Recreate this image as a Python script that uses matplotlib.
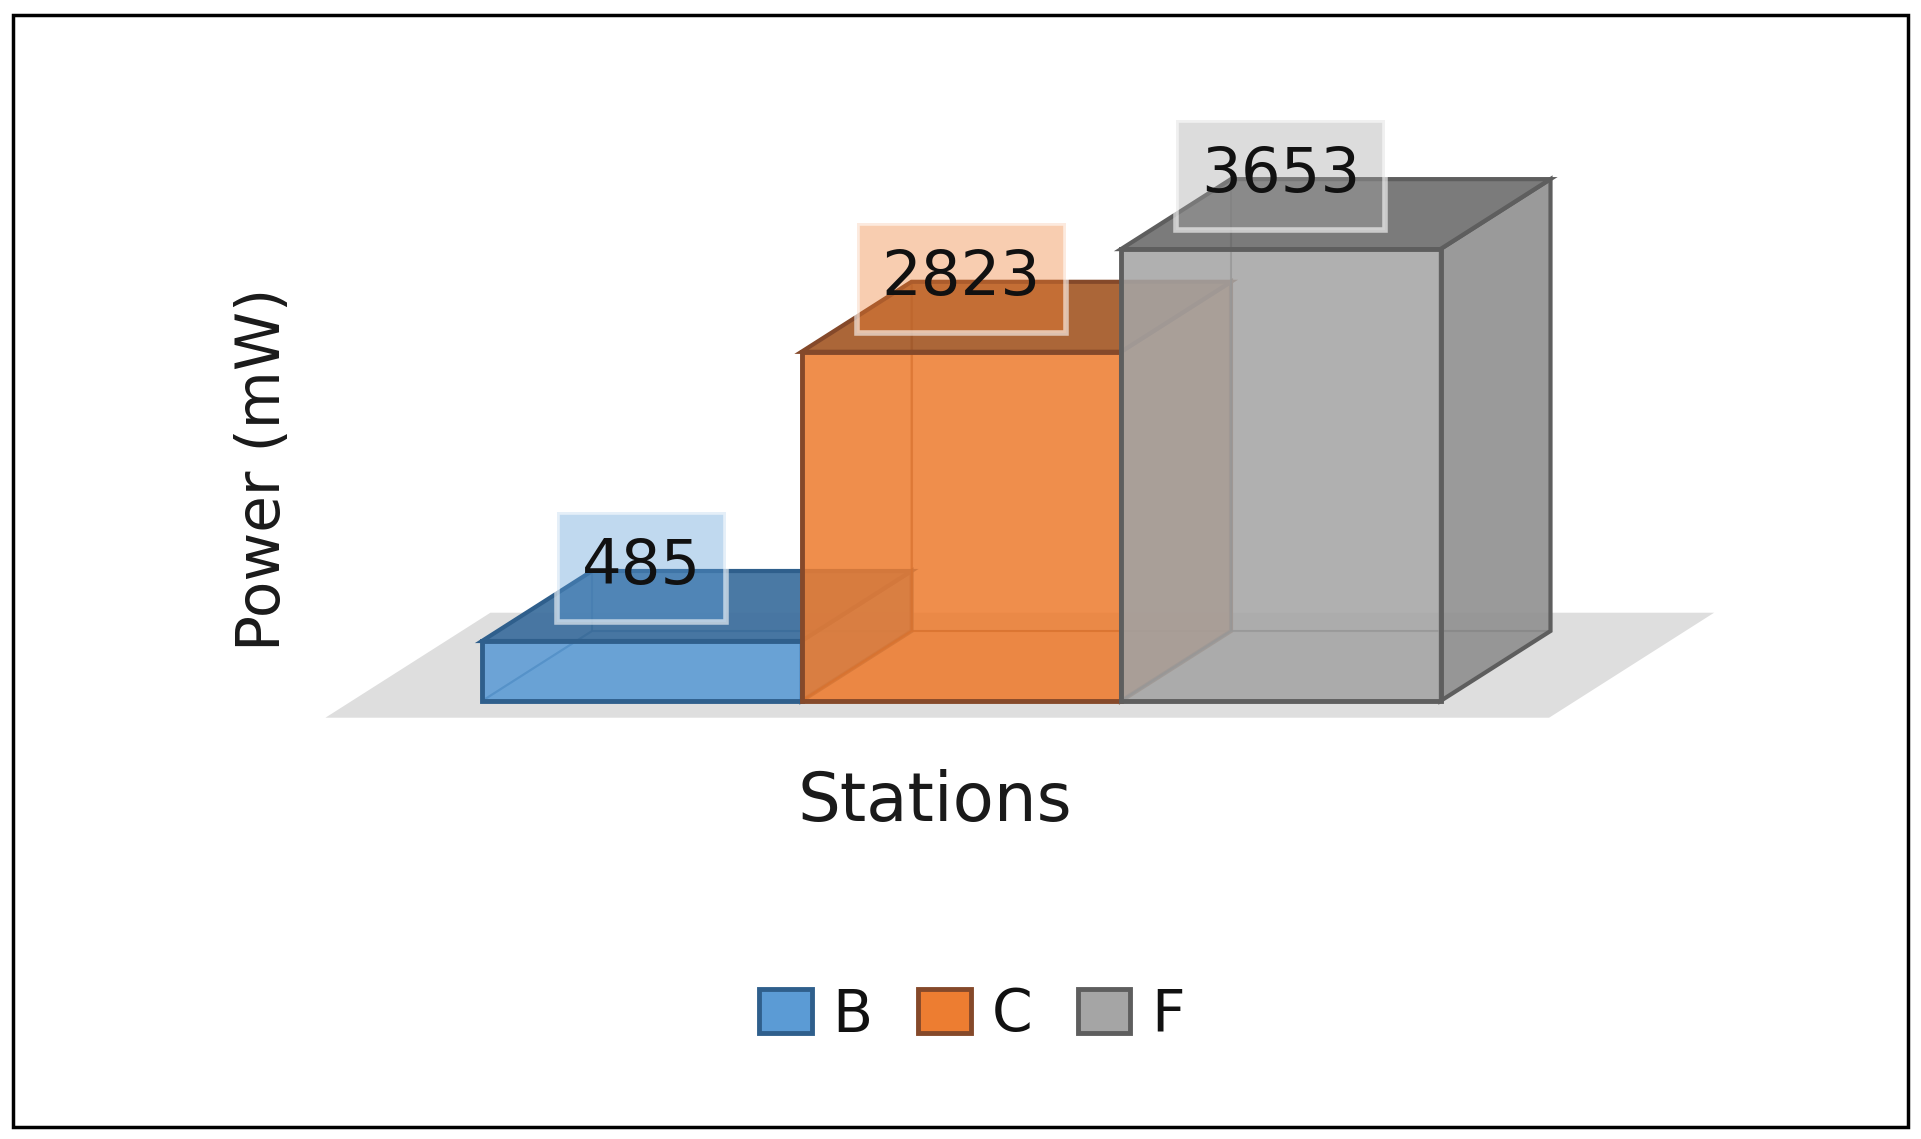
import matplotlib
matplotlib.use("Agg")
import matplotlib.pyplot as plt
from matplotlib.colors import to_rgb
from matplotlib.patches import Patch, Polygon, Rectangle

# valores
estacoes = ["B", "C", "F"]
potencia = [485, 2823, 3653]

cor_frente = ["#5B9BD5", "#ED7D31", "#A5A5A5"]
cor_topo = ["#3D6E9C", "#A35A2A", "#707070"]
cor_lado = ["#4A80B0", "#C06A30", "#8E8E8E"]
cor_borda = ["#2F5F8C", "#85492A", "#5E5E5E"]

# escala da "perspectiva" (pixels por unidade)
PX_X = 319.5
PX_Y = 0.1237
X0, Y0 = 482, 701
LARG, ALT = 1921, 1139
DX = 110 / PX_X
DY = 70 / PX_Y

fig = plt.figure(figsize=(LARG / 100, ALT / 100), dpi=100, facecolor="white")
ax = fig.add_axes([0, 0, 1, 1])
ax.set_xlim(-X0 / PX_X, (LARG - X0) / PX_X)
ax.set_ylim(-(ALT - Y0) / PX_Y, Y0 / PX_Y)
ax.axis("off")

# piso cinza
n = len(estacoes)
piso_y = -135
ax.add_patch(Polygon([(-0.49, piso_y), (n + 0.34, piso_y),
                      (n + 0.34 + DX * 1.5, piso_y + DY * 1.5),
                      (-0.49 + DX * 1.5, piso_y + DY * 1.5)],
                     facecolor="#DEDEDE", edgecolor="none", zorder=1))


def face(pts, cor, borda, alpha, lw, z):
    # face com preenchimento transparente e borda separada
    ax.add_patch(Polygon(pts, facecolor=cor, edgecolor="none", alpha=alpha, zorder=z))
    ax.add_patch(Polygon(pts, fill=False, edgecolor=borda, alpha=min(alpha + 0.2, 1),
                         lw=lw, zorder=z, joinstyle="miter"))


for i, v in enumerate(potencia):
    z = 2 + i
    f, b, t = cor_frente[i], cor_borda[i], cor_topo[i]
    # faces de tras
    face([(i + DX, DY), (i + 1 + DX, DY), (i + 1 + DX, v + DY), (i + DX, v + DY)], f, b, 0.35, 1.5, z)
    face([(i, 0), (i + DX, DY), (i + DX, v + DY), (i, v)], f, b, 0.35, 1.5, z)
    face([(i, 0), (i + 1, 0), (i + 1 + DX, DY), (i + DX, DY)], f, b, 0.45, 1.5, z)
    # faces da frente
    face([(i + 1, 0), (i + 1 + DX, DY), (i + 1 + DX, v + DY), (i + 1, v)], cor_lado[i], b, 0.85, 3, z)
    face([(i, v), (i + 1, v), (i + 1 + DX, v + DY), (i + DX, v + DY)], t, b, 0.9, 3, z)
    face([(i, 0), (i + 1, 0), (i + 1, v), (i, v)], f, b, 0.8, 3.5, z)

# rotulos de valor, caixa com a cor da barra bem transparente
for i, v in enumerate(potencia):
    ax.text(i + 0.5, v + 600, str(v), ha="center", va="center", fontsize=45,
            color="#111111", zorder=10,
            bbox=dict(boxstyle="square,pad=0.4", facecolor=(*to_rgb(cor_frente[i]), 0.38),
                      edgecolor=(1, 1, 1, 0.6), lw=4))

fig.text(935 / LARG, 1 - 802 / ALT, "Stations", ha="center", va="center",
         fontsize=48.5, color="#1A1A1A")
fig.text(263 / LARG, 1 - 469 / ALT, "Power (mW)", ha="center", va="center",
         rotation=90, fontsize=43, color="#1A1A1A")

handles = [Patch(facecolor=cor_frente[i], edgecolor=cor_borda[i], lw=3.5) for i in range(n)]
fig.legend(handles, estacoes, loc="center", bbox_to_anchor=(972 / LARG, 1 - 1015 / ALT),
           ncol=3, frameon=False, fontsize=42, handlelength=0.9, handleheight=0.78,
           handletextpad=0.36, columnspacing=0.78, labelcolor="#111111")

# moldura externa
fig.add_artist(Rectangle((13 / LARG, 1 - 1127 / ALT), 1895 / LARG, 1112 / ALT, fill=False,
                         edgecolor="black", lw=2.5, transform=fig.transFigure))

fig.savefig("out.png", dpi=100)
